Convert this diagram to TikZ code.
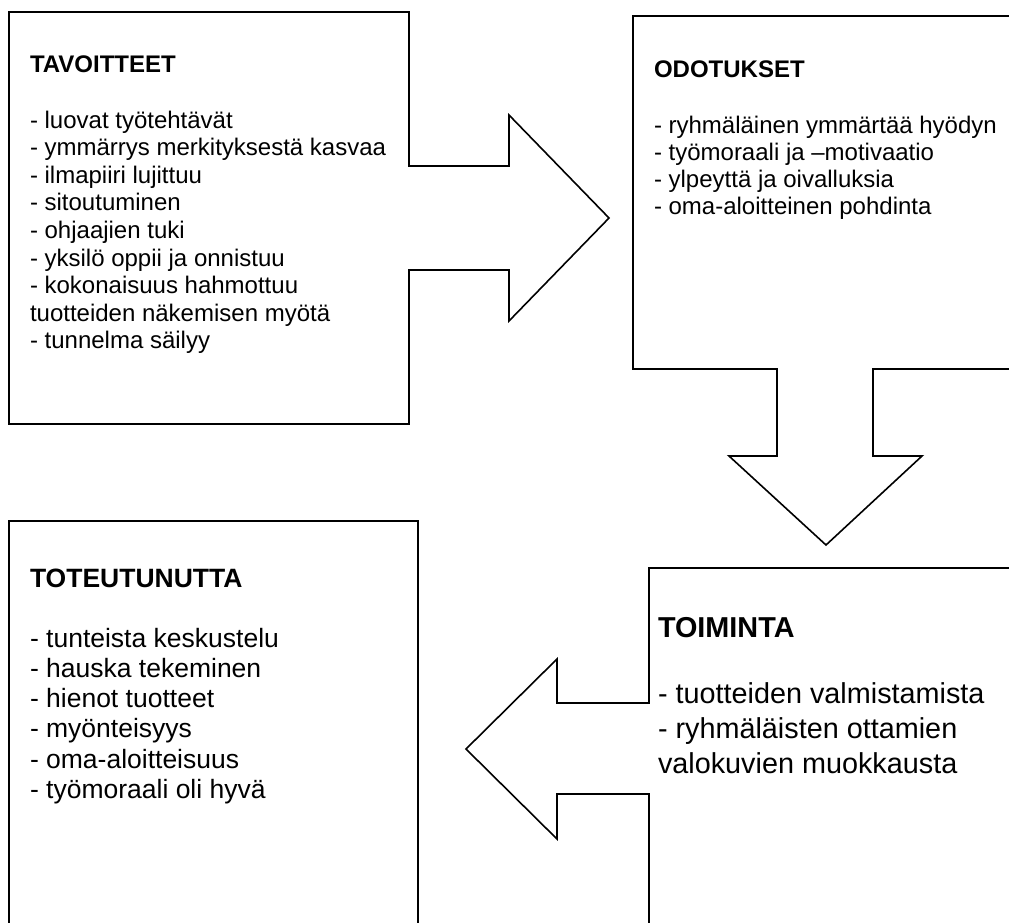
\documentclass[tikz,border=0pt]{standalone}
\usepackage{fontspec}
\setmainfont{Liberation Sans}
\begin{document}
\begin{tikzpicture}[x=1pt,y=-1pt,
  outline/.style={draw=black, line width=1.6pt, line join=miter},
  txt/.style={anchor=base west, inner sep=0pt, outer sep=0pt},
  sA/.style={txt, font=\fontsize{24pt}{28pt}\selectfont},
  sAb/.style={txt, font=\fontsize{24pt}{28pt}\selectfont\bfseries},
  sB/.style={txt, font=\fontsize{28.8pt}{34pt}\selectfont},
  sBb/.style={txt, font=\fontsize{28.8pt}{34pt}\selectfont\bfseries},
  sC/.style={txt, font=\fontsize{26.5pt}{30pt}\selectfont},
  sCb/.style={txt, font=\fontsize{26.5pt}{30pt}\selectfont\bfseries}]
\useasboundingbox (0,0) rectangle (1009,922);
\clip (0,0) rectangle (1009,922);

% TAVOITTEET box with right arrow
\draw[outline] (409,166) -- (409,12) -- (9,12) -- (9,424) -- (409,424) -- (409,270)
  -- (509,270) -- (509,321) -- (609,218) -- (509,115) -- (509,166) -- cycle;

% ODOTUKSET box with down arrow
\draw[outline] (1015,16) -- (633,16) -- (633,369) -- (777,369) -- (777,456) -- (729,456)
  -- (826,545) -- (922,456) -- (873,456) -- (873,369) -- (1015,369);

% TOIMINTA box with left arrow
\draw[outline] (1015,568) -- (649,568) -- (649,703) -- (557,703) -- (557,659) -- (466,749)
  -- (557,839) -- (557,794) -- (649,794) -- (649,930);

% TOTEUTUNUTTA box
\draw[outline] (9,930) -- (9,521) -- (418,521) -- (418,930);

% Texts: TAVOITTEET
\node[sAb] (tav) at (30,72) {TAVOITTEET};
\node[sA] (tav1) at (30,128) {- luovat työtehtävät};
\node[sA] (tav2) at (30,155.6) {- ymmärrys merkityksestä kasvaa};
\node[sA] (tav3) at (30,183.2) {- ilmapiiri lujittuu};
\node[sA] (tav4) at (30,210.8) {- sitoutuminen};
\node[sA] (tav5) at (30,238.4) {- ohjaajien tuki};
\node[sA] (tav6) at (30,266) {- yksilö oppii ja onnistuu};
\node[sA] (tav7) at (30,293.6) {- kokonaisuus hahmottuu};
\node[sA] (tav8) at (30,321.2) {tuotteiden näkemisen myötä};
\node[sA] (tav9) at (30,348.8) {- tunnelma säilyy};

% ODOTUKSET
\node[sAb] (odo) at (654,77) {ODOTUKSET};
\node[sA] (odo1) at (654,133) {- ryhmäläinen ymmärtää hyödyn};
\node[sA] (odo2) at (654,160) {- työmoraali ja –motivaatio};
\node[sA] (odo3) at (654,187) {- ylpeyttä ja oivalluksia};
\node[sA] (odo4) at (654,214) {- oma-aloitteinen pohdinta};

% TOIMINTA
\node[sBb] (toi) at (658,637) {TOIMINTA};
\node[sB] (toi1) at (658,703) {- tuotteiden valmistamista};
\node[sB] (toi2) at (658,738) {- ryhmäläisten ottamien};
\node[sB] (toi3) at (658,773) {valokuvien muokkausta};

% TOTEUTUNUTTA
\node[sCb] (tot) at (30,587) {TOTEUTUNUTTA};
\node[sC] (tot1) at (30,647) {- tunteista keskustelu};
\node[sC] (tot2) at (30,677.3) {- hauska tekeminen};
\node[sC] (tot3) at (30,707.6) {- hienot tuotteet};
\node[sC] (tot4) at (30,737.9) {- myönteisyys};
\node[sC] (tot5) at (30,768.2) {- oma-aloitteisuus};
\node[sC] (tot6) at (30,798.5) {- työmoraali oli hyvä};
\end{tikzpicture}
\end{document}
